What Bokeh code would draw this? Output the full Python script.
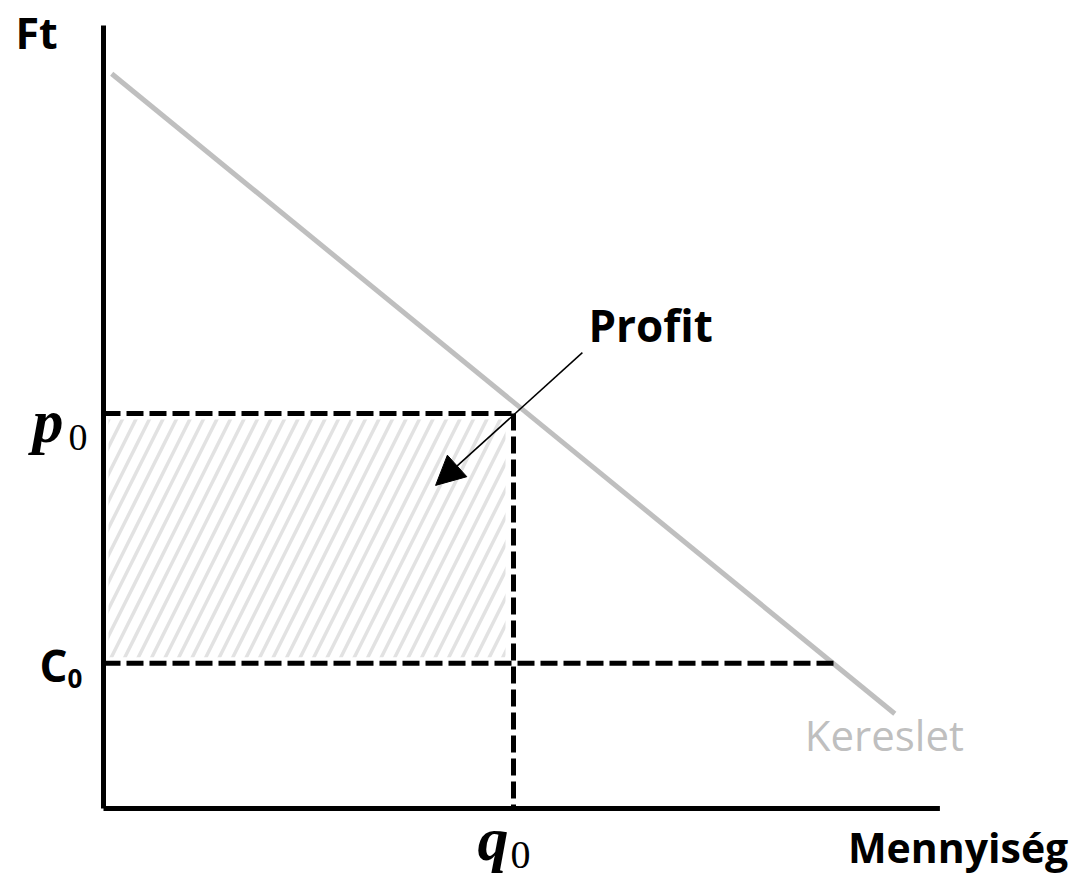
from bokeh.plotting import figure
from bokeh.models import Range1d, Arrow, NormalHead
from bokeh.core.properties import value
from bokeh.embed import file_html
from bokeh.resources import INLINE

# ---- data (economic diagram units) ----
demand_q = [0.1, 9.65]
demand_p = [9.3, 1.2]
q0 = 5.0
p0 = 5.0
c0 = 1.84
c0_end_q = 8.94          # where the C0 line meets the demand curve
axis_x_max = 10.2
axis_y_max = 9.91
arrow_start = (5.84, 5.77)
arrow_end = (4.05, 4.09)

# ---- layout ----
W, H = 1076, 875
SX, SY = 82.0, 79.0          # px per unit
ox_px, oy_px = 103.0, 808.0  # origin in plot pixels
xs = -ox_px / SX
ye = oy_px / SY

p = figure(width=W, height=H, output_backend="svg", toolbar_location=None,
           x_range=Range1d(xs, xs + W / SX), y_range=Range1d(ye - H / SY, ye),
           x_axis_type=None, y_axis_type=None, min_border=0,
           outline_line_color=None, background_fill_color="white")
p.grid.visible = False

# hatched profit area (slightly inset from the dashed borders)
ix, iy = 5 / SX, 6 / SY
p.quad(left=[ix], right=[q0 - 8 / SX], bottom=[c0 + iy], top=[p0 - iy],
       fill_color=None, line_color=None,
       hatch_pattern="/", hatch_color="#e2e2e2", hatch_weight=3.5, hatch_scale=27)

# demand line
p.line(demand_q, demand_p, line_color="#bfbfbf", line_width=5)

# dashed guides
dash = "17 6"
p.line([0, q0], [p0, p0], line_color="black", line_width=5, line_dash=dash)
p.line([0, c0_end_q], [c0, c0], line_color="black", line_width=5, line_dash=dash)
p.line([q0, q0], [p0, 0], line_color="black", line_width=5, line_dash=dash)

# axes
p.line([0, 0], [0, axis_y_max], line_color="black", line_width=5)
p.line([0, axis_x_max], [0, 0], line_color="black", line_width=5)

# arrow
p.add_layout(Arrow(end=NormalHead(size=29, fill_color="black", line_color="black"),
                   x_start=arrow_start[0], y_start=arrow_start[1],
                   x_end=arrow_end[0], y_end=arrow_end[1],
                   line_color="black", line_width=1.5))

sans = value("Open Sans")
serif = value("Liberation Serif")

def label(x, y, t, dx, dy, size, font=sans, style="bold", color="black"):
    p.text(x=[x], y=[y], text=[t], x_offset=dx, y_offset=dy,
           text_font=font, text_font_style=style, text_font_size=f"{size}px",
           text_color=color, text_align="left", text_baseline="alphabetic")

label(0, axis_y_max, "Ft", -88, 7, 43)
label(axis_x_max, 0, "Mennyiség", -92, 38, 41)
label(arrow_start[0], arrow_start[1], "Profit", 6, -28, 44)
label(demand_q[1], demand_p[1], "Kereslet", -90, 21, 42, style="normal", color="#bfbfbf")
label(0, c0, "C", -64, 2, 44)
label(0, c0, "0", -36, 15, 26)
label(0, p0, "p", -71, 7, 62, font=serif, style="bold italic")
label(0, p0, "0", -35, 24, 38, font=serif, style="normal")
label(q0, 0, "q", -36, 30, 62, font=serif, style="bold italic")
label(q0, 0, "0", -3, 46, 40, font=serif, style="normal")

open("out.html", "w").write(file_html(p, INLINE))
